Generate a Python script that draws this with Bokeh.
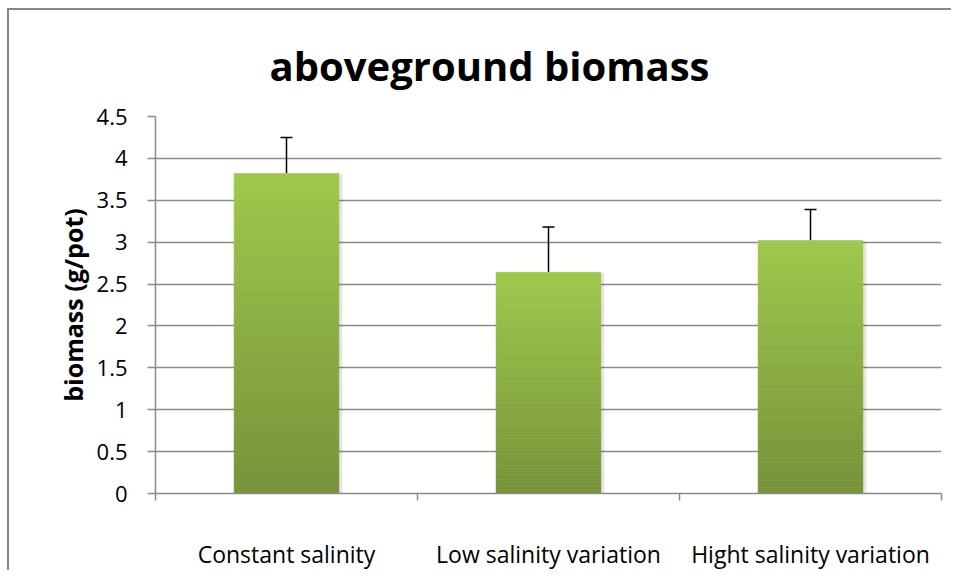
from bokeh.plotting import figure
from bokeh.models import FixedTicker, Whisker, ColumnDataSource, TeeHead, Range1d
from bokeh.embed import file_html
from bokeh.resources import INLINE

categories = ["Constant salinity", "Low salinity variation", "Hight salinity variation"]
biomass = [3.82, 2.64, 3.02]
errors = [0.43, 0.54, 0.37]
y_ticks = [0, 0.5, 1, 1.5, 2, 2.5, 3, 3.5, 4, 4.5]
title_text = "aboveground biomass"
y_label = "biomass (g/pot)"

FONT = "Open Sans"
GRAY = "#8a8a8a"

xs = [i + 0.5 for i in range(len(categories))]
cat_bounds = list(range(len(categories) + 1))

p = figure(width=944, height=562, output_backend="svg", toolbar_location=None,
           x_range=Range1d(0, len(categories)), y_range=Range1d(0, 4.5),
           min_border_left=146, min_border_right=12, min_border_top=106,
           min_border_bottom=78)
p.styles = {"border-left": "2px solid #888888", "border-top": "2px solid #888888",
            "margin-left": "7px", "margin-top": "8px"}
p.outline_line_color = None
p.background_fill_color = "white"
p.border_fill_color = "white"

p.title.text = title_text
p.title.text_font = FONT
p.title.text_font_style = "bold"
p.title.text_font_size = "40px"
p.title.text_color = "black"
p.title.align = "left"
p.title.offset = 114
p.title.standoff = 47

# gradient bars built from stacked slices
N = 80
bot_c = (118, 146, 56)
top_c = (158, 200, 75)
sx, sb, st, sc = [], [], [], []
for x, v in zip(xs, biomass):
    for k in range(N):
        f = (k + 0.5) / N
        c = tuple(int(round(bot_c[j] + (top_c[j] - bot_c[j]) * f)) for j in range(3))
        sx.append(x)
        sb.append(v * k / N)
        st.append(v * (k + 1) / N)
        sc.append("#%02x%02x%02x" % c)

# soft shadow
p.vbar(x=[x + 0.008 for x in xs], top=[v - 0.01 for v in biomass], bottom=0, width=0.41,
       fill_color="black", fill_alpha=0.10, line_color=None)
p.vbar(x=sx, bottom=sb, top=st, width=0.4, fill_color=sc, line_color=sc, line_width=0.6)

src = ColumnDataSource(dict(base=xs, lower=biomass,
                            upper=[v + e for v, e in zip(biomass, errors)]))
p.add_layout(Whisker(source=src, base="base", lower="lower", upper="upper",
                     line_color="black", line_width=1.5,
                     upper_head=TeeHead(size=12, line_color="black", line_width=1.5),
                     lower_head=None))

# axes
p.xaxis.ticker = FixedTicker(ticks=xs, minor_ticks=cat_bounds)
p.xaxis.major_label_overrides = {x: c for x, c in zip(xs, categories)}
p.xaxis.major_tick_out = 0
p.xaxis.major_tick_in = 0
p.xaxis.minor_tick_out = 7
p.xaxis.minor_tick_in = 0
p.xaxis.minor_tick_line_color = GRAY
p.xaxis.minor_tick_line_width = 1.5
p.xaxis.axis_line_color = GRAY
p.xaxis.axis_line_width = 1.5
p.xaxis.major_label_standoff = 37
p.xaxis.major_label_text_font = FONT
p.xaxis.major_label_text_font_size = "23px"
p.xaxis.major_label_text_color = "black"

p.yaxis.ticker = FixedTicker(ticks=y_ticks, minor_ticks=[])
p.yaxis.major_label_overrides = {t: ("%g" % t) for t in y_ticks}
p.yaxis.major_tick_out = 8
p.yaxis.major_tick_in = 0
p.yaxis.major_tick_line_color = GRAY
p.yaxis.major_tick_line_width = 1.5
p.yaxis.axis_line_color = GRAY
p.yaxis.axis_line_width = 1.5
p.yaxis.major_label_standoff = 20
p.yaxis.major_label_text_font = FONT
p.yaxis.major_label_text_font_size = "22px"
p.yaxis.major_label_text_color = "black"
p.yaxis.axis_label = y_label
p.yaxis.axis_label_text_font = FONT
p.yaxis.axis_label_text_font_style = "bold"
p.yaxis.axis_label_text_font_size = "25px"
p.yaxis.axis_label_text_color = "black"
p.yaxis.axis_label_standoff = 4

p.xgrid.grid_line_color = None
p.ygrid.ticker = FixedTicker(ticks=y_ticks)
p.ygrid.grid_line_color = GRAY
p.ygrid.grid_line_width = 1.5

open("out.html", "w").write(file_html(p, INLINE))
